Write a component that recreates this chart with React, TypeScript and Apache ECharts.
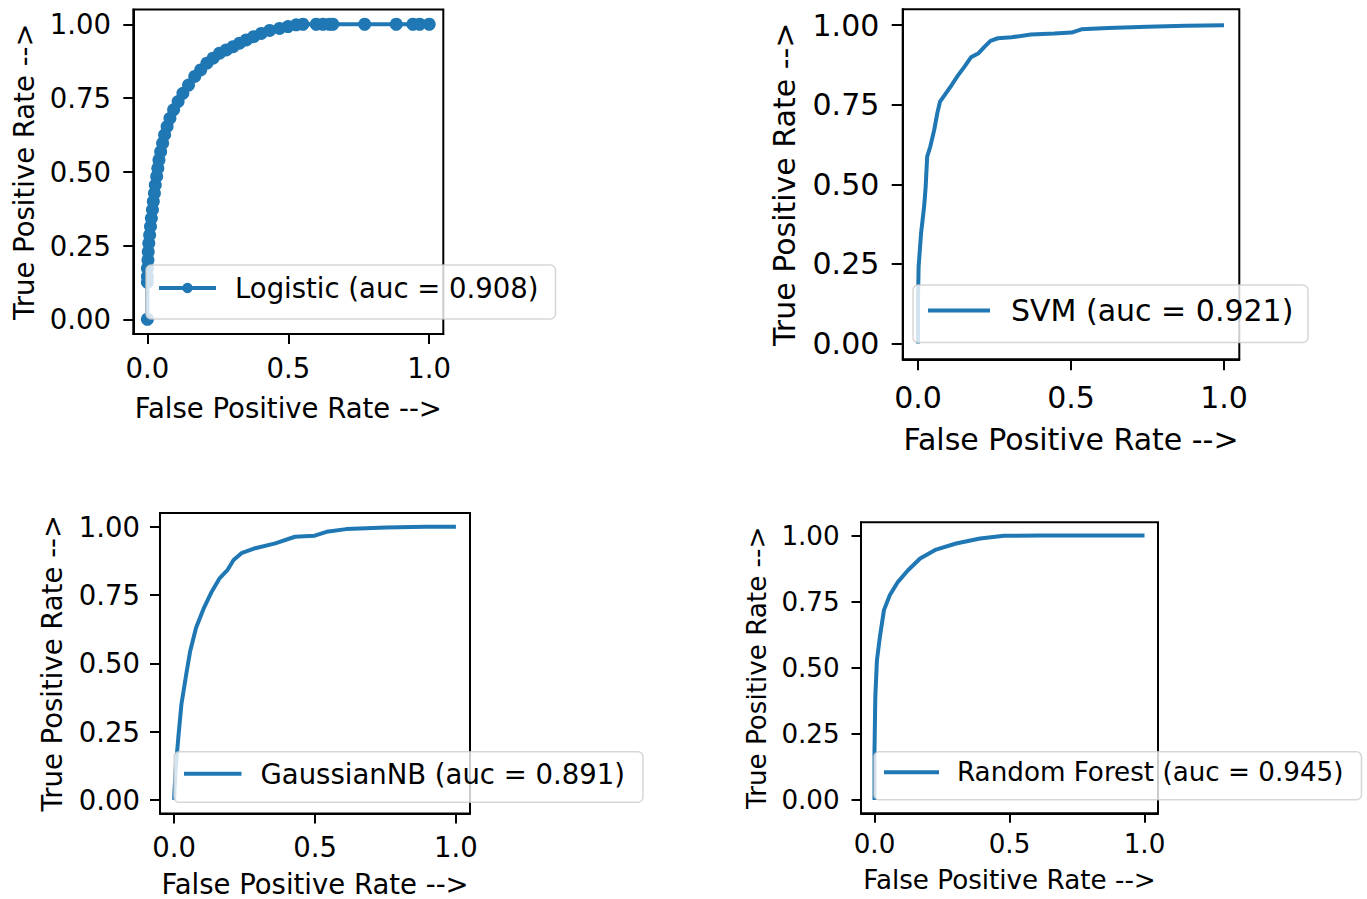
import React, { useEffect, useRef } from "react";
import * as echarts from "echarts";

// ---------- data ----------
const xTicks = [0, 0.5, 1.0];
const yTicks = [0, 0.25, 0.5, 0.75, 1.0];
const xTickLabels = ["0.0", "0.5", "1.0"];
const yTickLabels = ["0.00", "0.25", "0.50", "0.75", "1.00"];

const seriesNames = [
  "Logistic (auc = 0.908)",
  "SVM (auc = 0.921)",
  "GaussianNB (auc = 0.891)",
  "Random Forest (auc = 0.945)",
];

const logisticFpr = [
  0, 0, 0, 0, 0.002, 0.003, 0.005, 0.008, 0.011, 0.014, 0.018, 0.021, 0.025, 0.028, 0.033, 0.037, 0.041,
  0.047, 0.054, 0.061, 0.07, 0.08, 0.093, 0.109, 0.126, 0.146, 0.168, 0.189, 0.211, 0.233, 0.256, 0.28,
  0.304, 0.327, 0.351, 0.377, 0.404, 0.434, 0.469, 0.499, 0.528, 0.552, 0.599, 0.623, 0.646, 0.658, 0.771,
  0.883, 0.942, 0.966, 1.0,
];
const logisticTpr = [
  0, 0.125, 0.145, 0.173, 0.201, 0.229, 0.258, 0.286, 0.314, 0.342, 0.371, 0.399, 0.427, 0.455, 0.484,
  0.512, 0.54, 0.568, 0.597, 0.625, 0.653, 0.681, 0.71, 0.738, 0.766, 0.794, 0.823, 0.845, 0.868, 0.885,
  0.902, 0.913, 0.924, 0.936, 0.947, 0.958, 0.969, 0.979, 0.986, 0.992, 0.998, 1.0, 1.0, 1.0, 1.0, 1.0,
  1.0, 1.0, 1.0, 1.0, 1.0,
];

const svmFpr = [
  0, 0, 0.002, 0.01, 0.02, 0.025, 0.03, 0.04, 0.053, 0.063, 0.072, 0.091, 0.11, 0.129, 0.152, 0.173, 0.198,
  0.217, 0.237, 0.261, 0.306, 0.369, 0.445, 0.502, 0.534, 0.622, 0.749, 0.875, 1.0,
];
const svmTpr = [
  0, 0.136, 0.241, 0.346, 0.43, 0.492, 0.587, 0.618, 0.671, 0.723, 0.76, 0.786, 0.812, 0.84, 0.87, 0.899,
  0.912, 0.932, 0.951, 0.959, 0.962, 0.971, 0.974, 0.977, 0.987, 0.991, 0.995, 0.998, 1.0,
];

const gnbFpr = [
  0, 0.005, 0.015, 0.026, 0.043, 0.057, 0.078, 0.106, 0.134, 0.162, 0.19, 0.211, 0.239, 0.288, 0.359, 0.429,
  0.499, 0.541, 0.611, 0.752, 0.892, 1.0,
];
const gnbTpr = [
  0, 0.107, 0.228, 0.35, 0.459, 0.544, 0.63, 0.703, 0.763, 0.812, 0.842, 0.878, 0.903, 0.921, 0.939, 0.963,
  0.967, 0.981, 0.991, 0.997, 1.0, 1.0,
];

const rfFpr = [0, 0, 0.003, 0.009, 0.02, 0.035, 0.057, 0.087, 0.124, 0.169, 0.228, 0.302, 0.391, 0.48, 0.613, 1.0];
const rfTpr = [0, 0.189, 0.39, 0.529, 0.617, 0.718, 0.775, 0.825, 0.869, 0.913, 0.947, 0.97, 0.989, 0.999, 1.0, 1.0];

const fprs = [logisticFpr, svmFpr, gnbFpr, rfFpr];
const tprs = [logisticTpr, svmTpr, gnbTpr, rfTpr];

// ---------- layout / style ----------
const FONT = '"DejaVu Sans", sans-serif';
const BLUE = "#1f77b4";

const PANELS = [
  {
    grid: { left: 133.3, top: 9.5, width: 310, height: 324.5 },
    fs: 27.5, yNameGap: 95.3, xNameGap: 60.3, yLabelMargin: 22.2, xLabelMargin: 20.3, tickLen: 10,
    legend: { left: 146, top: 265, padding: [9, 17, 17, 11], itemWidth: 57, itemHeight: 13, textPad: 14 },
    markers: true,
  },
  {
    grid: { left: 902.7, top: 9.3, width: 336.6, height: 350 },
    fs: 30, yNameGap: 103.7, xNameGap: 64.9, yLabelMargin: 23.4, xLabelMargin: 22.7, tickLen: 11,
    legend: { left: 913, top: 285, padding: [10.5, 14.6, 17, 15], itemWidth: 62, itemHeight: 4, textPad: 16 },
    markers: false,
  },
  {
    grid: { left: 160, top: 513, width: 310, height: 301.7 },
    fs: 27.5, yNameGap: 94, xNameGap: 56.5, yLabelMargin: 19.9, xLabelMargin: 19.9, tickLen: 10,
    legend: { left: 174, top: 751.7, padding: [8, 18, 14.5, 10], itemWidth: 57.5, itemHeight: 4, textPad: 14 },
    markers: false,
  },
  {
    grid: { left: 861, top: 522.3, width: 297, height: 291 },
    fs: 26.2, yNameGap: 91.3, xNameGap: 53.6, yLabelMargin: 21.3, xLabelMargin: 17.6, tickLen: 9.5,
    legend: { left: 874, top: 751.7, padding: [7.5, 18, 14.6, 10], itemWidth: 55, itemHeight: 4, textPad: 13 },
    markers: false,
  },
];

function buildOption() {
  const grid: any[] = [];
  const xAxis: any[] = [];
  const yAxis: any[] = [];
  const series: any[] = [];
  const legend: any[] = [];

  PANELS.forEach((p, i) => {
    grid.push({
      ...p.grid,
      show: true,
      borderColor: "#000",
      borderWidth: 2,
      backgroundColor: "transparent",
      containLabel: false,
    });
    const textBase = { fontFamily: FONT, fontSize: p.fs, color: "#000" };
    xAxis.push({
      type: "value",
      gridIndex: i,
      min: -0.05,
      max: 1.05,
      name: "False Positive Rate -->",
      nameLocation: "middle",
      nameGap: p.xNameGap,
      nameTextStyle: textBase,
      axisLine: { show: true, onZero: false, lineStyle: { color: "#000", width: 2 } },
      axisTick: { show: true, inside: false, length: p.tickLen, customValues: xTicks, lineStyle: { color: "#000", width: 2 } },
      axisLabel: {
        ...textBase,
        margin: p.xLabelMargin,
        customValues: xTicks,
        formatter: (v: number) => xTickLabels[xTicks.indexOf(Math.round(v * 100) / 100)] ?? v.toFixed(1),
      },
      splitLine: { show: false },
    });
    yAxis.push({
      type: "value",
      gridIndex: i,
      min: -0.05,
      max: 1.05,
      name: "True Positive Rate -->",
      nameLocation: "middle",
      nameRotate: 90,
      nameGap: p.yNameGap,
      nameTextStyle: textBase,
      axisLine: { show: true, onZero: false, lineStyle: { color: "#000", width: 2 } },
      axisTick: { show: true, inside: false, length: p.tickLen, customValues: yTicks, lineStyle: { color: "#000", width: 2 } },
      axisLabel: {
        ...textBase,
        margin: p.yLabelMargin,
        customValues: yTicks,
        formatter: (v: number) => yTickLabels[yTicks.indexOf(Math.round(v * 100) / 100)] ?? v.toFixed(2),
      },
      splitLine: { show: false },
    });
    const data = fprs[i].map((x, k) => [x, tprs[i][k]]);
    series.push({
      type: "line",
      name: seriesNames[i],
      xAxisIndex: i,
      yAxisIndex: i,
      data,
      symbol: p.markers ? "circle" : "none",
      showSymbol: p.markers,
      symbolSize: 13,
      lineStyle: { color: BLUE, width: 4 },
      itemStyle: { color: BLUE },
      silent: true,
      clip: false,
      z: 2,
    });
    const lg = p.legend;
    legend.push({
      data: [
        p.markers
          ? { name: seriesNames[i] }
          : { name: seriesNames[i], icon: `path://M0,0H${lg.itemWidth}V${lg.itemHeight}H0Z` },
      ],
      left: lg.left,
      top: lg.top,
      orient: "horizontal",
      padding: lg.padding,
      itemWidth: lg.itemWidth,
      itemHeight: lg.itemHeight,
      itemGap: 0,
      selectedMode: false,
      backgroundColor: "rgba(255,255,255,0.8)",
      borderColor: "rgba(204,204,204,0.8)",
      borderWidth: 1.5,
      borderRadius: 5,
      lineStyle: { width: 4, color: BLUE },
      itemStyle: { color: BLUE },
      textStyle: { ...textBase, padding: [0, 0, 0, lg.textPad] },
      z: 10,
    });
  });

  return {
    animation: false,
    backgroundColor: "#fff",
    grid,
    xAxis,
    yAxis,
    series,
    legend,
  };
}

export default function App() {
  const ref = useRef<HTMLDivElement | null>(null);
  useEffect(() => {
    if (!ref.current) return;
    const chart = echarts.init(ref.current, undefined, { renderer: "svg" });
    chart.setOption(buildOption() as any);
    return () => chart.dispose();
  }, []);
  return (
    <div
      ref={ref}
      style={{ position: "fixed", left: 0, top: 0, width: 1367, height: 899, background: "#fff" }}
    />
  );
}
